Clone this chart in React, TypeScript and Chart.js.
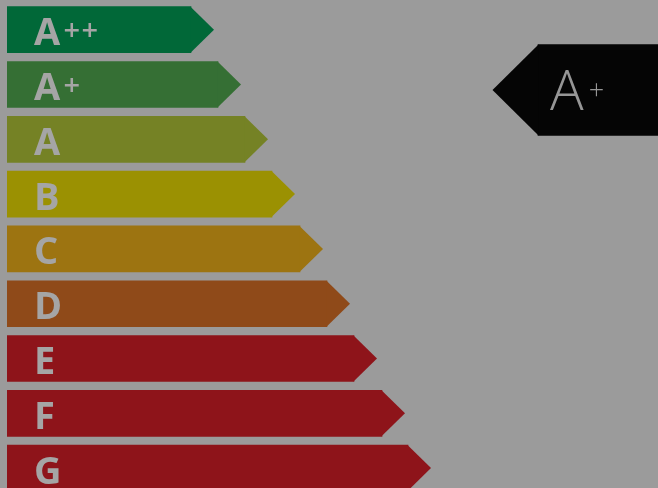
import React, { useEffect, useRef } from 'react';
import { Chart, registerables } from 'chart.js';

Chart.register(...registerables);

// Energy classes, top to bottom
const classLetters = ['A', 'A', 'A', 'B', 'C', 'D', 'E', 'F', 'G'];
const classSuffixes = ['++', '+', '', '', '', '', '', '', ''];
// Length of each class bar (arbitrary units, increasing with worse class)
const barLengths = [184, 211, 238, 265, 293, 320, 347, 375, 401];
const classColors = [
  'rgb(1,104,56)',
  'rgb(53,111,52)',
  'rgb(117,130,37)',
  'rgb(155,145,2)',
  'rgb(157,116,17)',
  'rgb(143,74,25)',
  'rgb(142,20,26)',
  'rgb(142,20,26)',
  'rgb(142,20,26)',
];
// Current rating indicator
const ratingLetter = 'A';
const ratingSuffix = '+';
const ratingRow = [1.1];
const ratingSpan: [number, number][] = [[531, 700]];

const BG = 'rgb(155,155,155)';
const TEXT = 'rgb(165,165,165)';

export default function App() {
  const ref = useRef<HTMLCanvasElement>(null);

  useEffect(() => {
    document.body.style.margin = '0';
    document.body.style.background = BG;
    const canvas = ref.current!;

    const shapes = {
      id: 'shapes',
      beforeDraw(chart: any) {
        const c = chart.ctx;
        c.save();
        c.fillStyle = BG;
        c.fillRect(0, 0, chart.width, chart.height);
        c.restore();
      },
      afterDatasetsDraw(chart: any) {
        const c = chart.ctx;
        c.save();
        // class bars: tips + labels
        const m0 = chart.getDatasetMeta(0);
        m0.data.forEach((el: any, i: number) => {
          const { x, y, height } = el.getProps(['x', 'y', 'height'], true);
          const h = height;
          c.fillStyle = classColors[i];
          c.beginPath();
          c.moveTo(x - 0.5, y - h / 2);
          c.lineTo(x + h / 2, y);
          c.lineTo(x - 0.5, y + h / 2);
          c.closePath();
          c.fill();
          c.fillStyle = TEXT;
          c.textBaseline = 'alphabetic';
          c.textAlign = 'left';
          c.font = 'bold 38px "Open Sans"';
          const lx = 34;
          c.fillText(classLetters[i], lx, y + 15.5);
          const w = c.measureText(classLetters[i]).width;
          const suf = classSuffixes[i];
          if (suf) {
            c.font = '600 29px "Open Sans"';
            c.textAlign = 'center';
            for (let k = 0; k < suf.length; k++) {
              c.fillText(suf[k], lx + w + 11.5 + k * 18, y + 10);
            }
            c.textAlign = 'left';
          }
        });
        // rating indicator
        const m1 = chart.getDatasetMeta(1);
        m1.data.forEach((el: any) => {
          const { y, base, height } = el.getProps(['y', 'base', 'height'], true);
          const h = height;
          c.fillStyle = 'rgb(5,5,5)';
          c.beginPath();
          c.moveTo(base + 0.5, y - h / 2);
          c.lineTo(base - h / 2, y);
          c.lineTo(base + 0.5, y + h / 2);
          c.closePath();
          c.fill();
          c.fillStyle = 'rgb(150,150,150)';
          c.textAlign = 'left';
          c.textBaseline = 'alphabetic';
          c.font = '300 56px "Open Sans"';
          c.fillText(ratingLetter, base + 12, y + 20);
          const w = c.measureText(ratingLetter).width;
          c.font = '300 27px "Open Sans"';
          c.fillText(ratingSuffix, base + 12 + w + 5, y + 9.5);
        });
        c.restore();
      },
    };

    const chart = new Chart(canvas, {
      type: 'bar',
      data: {
        datasets: [
          {
            data: barLengths.map((v, i) => ({ x: v, y: i })),
            backgroundColor: classColors,
            borderWidth: 0,
            barThickness: 46,
          } as any,
          {
            data: ratingSpan.map((s, i) => ({ x: s, y: ratingRow[i] })),
            backgroundColor: 'rgb(5,5,5)',
            borderWidth: 0,
            barThickness: 91,
          } as any,
        ],
      },
      options: {
        indexAxis: 'y',
        responsive: false,
        animation: false,
        grouped: false,
        layout: { padding: { left: 7, right: 0, top: 0, bottom: 0 } },
        scales: {
          x: { type: 'linear', min: 0, max: 651, display: false, offset: false },
          y: { type: 'linear', min: -0.542, max: 8.363, reverse: true, display: false, offset: false },
        },
        plugins: {
          legend: { display: false },
          tooltip: { enabled: false },
        },
      } as any,
      plugins: [shapes],
    });
    return () => chart.destroy();
  }, []);

  return (
    <div style={{ width: 658, height: 488, background: BG }}>
      <canvas ref={ref} width={658} height={488} style={{ display: 'block' }} />
    </div>
  );
}
